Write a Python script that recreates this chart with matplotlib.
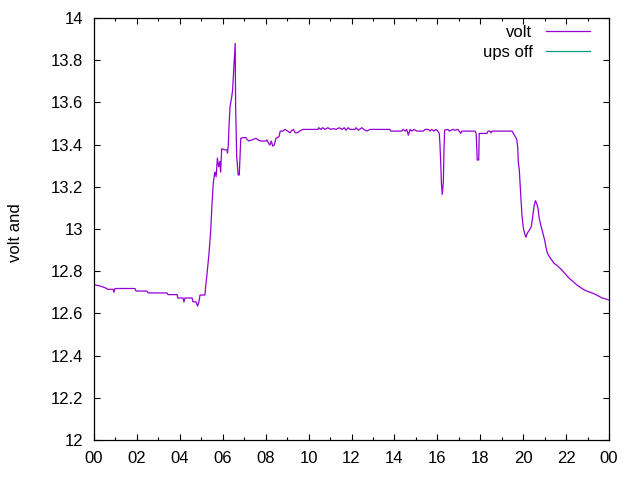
import matplotlib
matplotlib.use("Agg")
import matplotlib.pyplot as plt
from matplotlib.ticker import FixedLocator, MultipleLocator

plt.rcParams['font.family'] = ['Liberation Sans', 'DejaVu Sans']

# time of day in hours (0 .. 24)
hours = [
    0.00, 0.28, 0.51, 0.65, 0.89, 0.93, 0.98, 1.91, 1.96, 2.47, 2.52, 3.40, 3.45, 3.87,
    3.91, 4.15, 4.19, 4.24, 4.57, 4.61, 4.75, 4.83, 4.89, 4.94, 5.17, 5.22, 5.27, 5.36,
    5.44, 5.50, 5.56, 5.63, 5.69, 5.75, 5.81, 5.87, 5.90, 5.95, 6.10, 6.20, 6.22, 6.26,
    6.29, 6.34, 6.42, 6.46, 6.51, 6.57, 6.58, 6.60, 6.65, 6.72, 6.77, 6.84, 6.94, 7.08,
    7.13, 7.22, 7.36, 7.55, 7.64, 7.78, 8.02, 8.06, 8.14, 8.20, 8.26, 8.33, 8.40, 8.48,
    8.62, 8.68, 8.79, 8.91, 9.03, 9.13, 9.23, 9.29, 9.38, 9.49, 9.57, 9.65, 9.74, 10.44,
    10.47, 10.58, 10.66, 10.78, 10.89, 11.04, 11.15, 11.28, 11.43, 11.56, 11.66, 11.74,
    11.84, 11.93, 12.16, 12.21, 12.32, 12.48, 12.58, 12.71, 12.86, 13.79, 13.83, 14.34,
    14.41, 14.51, 14.57, 14.65, 14.73, 14.81, 14.91, 15.04, 15.35, 15.43, 15.58, 15.66,
    15.74, 15.84, 15.94, 16.02, 16.09, 16.12, 16.16, 16.19, 16.23, 16.28, 16.31, 16.34,
    16.50, 16.56, 16.73, 16.82, 16.96, 17.09, 17.14, 17.76, 17.81, 17.84, 17.86, 17.93,
    17.95, 18.31, 18.36, 18.45, 18.50, 18.55, 19.48, 19.54, 19.62, 19.70, 19.75, 19.77,
    19.82, 19.85, 19.90, 19.95, 20.01, 20.09, 20.13, 20.19, 20.29, 20.38, 20.44, 20.51,
    20.57, 20.63, 20.69, 20.75, 20.82, 20.88, 20.94, 21.00, 21.06, 21.13, 21.22, 21.33,
    21.44, 21.56, 21.72, 21.87, 22.03, 22.18, 22.34, 22.50, 22.65, 22.80, 22.96, 23.19,
    23.43, 23.66, 23.89, 23.97,
]

volt = [
    12.736, 12.730, 12.722, 12.714, 12.714, 12.700, 12.718, 12.718, 12.706, 12.706, 12.697,
    12.697, 12.689, 12.689, 12.673, 12.673, 12.654, 12.673, 12.673, 12.655, 12.655, 12.635,
    12.655, 12.687, 12.687, 12.744, 12.790, 12.886, 12.995, 13.120, 13.218, 13.270, 13.248,
    13.336, 13.295, 13.320, 13.270, 13.380, 13.375, 13.375, 13.360, 13.400, 13.485, 13.580,
    13.627, 13.660, 13.754, 13.870, 13.880, 13.580, 13.343, 13.256, 13.256, 13.430, 13.433,
    13.433, 13.425, 13.417, 13.422, 13.430, 13.422, 13.417, 13.417, 13.422, 13.406, 13.398,
    13.417, 13.393, 13.398, 13.430, 13.437, 13.464, 13.464, 13.472, 13.464, 13.456, 13.468,
    13.472, 13.456, 13.456, 13.464, 13.468, 13.472, 13.472, 13.480, 13.472, 13.480, 13.472,
    13.480, 13.472, 13.476, 13.472, 13.480, 13.472, 13.480, 13.468, 13.480, 13.472, 13.472,
    13.480, 13.468, 13.480, 13.472, 13.464, 13.472, 13.472, 13.464, 13.464, 13.472, 13.464,
    13.472, 13.445, 13.472, 13.464, 13.472, 13.464, 13.464, 13.472, 13.472, 13.464, 13.472,
    13.464, 13.472, 13.464, 13.453, 13.406, 13.311, 13.217, 13.164, 13.224, 13.374, 13.469,
    13.472, 13.464, 13.472, 13.468, 13.472, 13.453, 13.464, 13.464, 13.453, 13.382, 13.327,
    13.327, 13.453, 13.453, 13.464, 13.464, 13.456, 13.464, 13.464, 13.454, 13.440, 13.425,
    13.382, 13.319, 13.280, 13.224, 13.137, 13.058, 13.003, 12.972, 12.961, 12.980, 12.995,
    13.011, 13.058, 13.109, 13.134, 13.121, 13.098, 13.050, 13.019, 12.995, 12.972, 12.948,
    12.916, 12.885, 12.869, 12.853, 12.837, 12.829, 12.814, 12.798, 12.779, 12.763, 12.750,
    12.735, 12.724, 12.714, 12.706, 12.698, 12.687, 12.674, 12.667, 12.664,
]

# "ups off" series: no points fall inside the plotted range
ups_off_hours = []
ups_off_volt = []

x_ticks = list(range(0, 25, 2))
x_labels = ["%02d" % (h % 24) for h in x_ticks]
y_ticks = [12.0, 12.2, 12.4, 12.6, 12.8, 13.0, 13.2, 13.4, 13.6, 13.8, 14.0]
y_labels = ["%g" % v for v in y_ticks]

fig = plt.figure(figsize=(6.4, 4.8), dpi=100)
ax = fig.add_axes([94 / 640, 1 - 440 / 480, (609 - 94) / 640, (440 - 18) / 480])

ax.plot(hours, volt, color='#9400d3', lw=0.9, label='volt')
ax.plot(ups_off_hours, ups_off_volt, color='#009e73', lw=0.9, label='ups off')

ax.set_xlim(0, 24)
ax.set_ylim(12, 14)
ax.xaxis.set_major_locator(FixedLocator(x_ticks))
ax.set_xticklabels(x_labels)
ax.xaxis.set_minor_locator(MultipleLocator(1))
ax.yaxis.set_major_locator(FixedLocator(y_ticks))
ax.set_yticklabels(y_labels)

for s in ax.spines.values():
    s.set_linewidth(0.9)
ax.tick_params(which='both', direction='in', top=True, right=True, labelsize=12,
               width=0.8, colors='black')
ax.tick_params(which='major', length=4.5, pad=8)
ax.tick_params(which='minor', length=2.3)

fig.text(15 / 640, 1 - 233 / 480, 'volt and', rotation=90, fontsize=12,
         ha='center', va='center')

leg = ax.legend(loc='upper right', bbox_to_anchor=(590 / 640, 1 - 25 / 480),
                bbox_transform=fig.transFigure, frameon=False, markerfirst=False,
                fontsize=12, handlelength=2.65, handletextpad=0.8,
                labelspacing=0.32, borderpad=0, borderaxespad=0)

fig.savefig('out.png', dpi=100)
